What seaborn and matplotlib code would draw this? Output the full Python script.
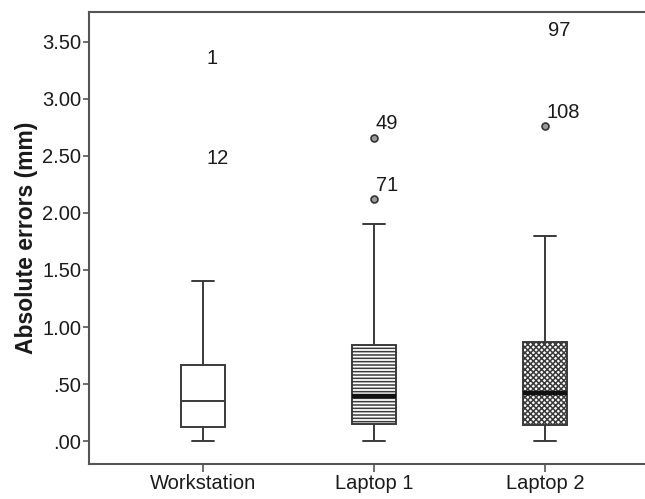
import numpy as np
import seaborn as sns
import pandas as pd
import matplotlib
matplotlib.use("Agg")
import matplotlib.pyplot as plt

# five number summaries (min, q1, median, q3, max)
categories = ["Workstation", "Laptop 1", "Laptop 2"]
workstation = [0.00, 0.12, 0.35, 0.67, 1.40]
laptop1 = [0.00, 0.15, 0.40, 0.84, 1.90]
laptop2 = [0.00, 0.14, 0.42, 0.87, 1.80]

# outlier points (circle shown) and extreme labels (only the case number shows)
out_cat = ["Laptop 1", "Laptop 1", "Laptop 2"]
out_val = [2.66, 2.12, 2.76]
out_lab = ["49", "71", "108"]
ext_cat = ["Workstation", "Workstation", "Laptop 2"]
ext_val = [3.35, 2.48, 3.60]
ext_lab = ["1", "12", "97"]

yticks = [0.0, 0.5, 1.0, 1.5, 2.0, 2.5, 3.0, 3.5]
ytick_labels = [".00", ".50", "1.00", "1.50", "2.00", "2.50", "3.00", "3.50"]

df = pd.DataFrame({
    "device": np.repeat(categories, 5),
    "err": workstation + laptop1 + laptop2,
})

sns.set_style("white")
plt.rcParams["font.family"] = ["Liberation Sans", "DejaVu Sans"]
plt.rcParams["hatch.linewidth"] = 1.1

fig = plt.figure(figsize=(6.45, 4.99), dpi=100)
ax = fig.add_axes([89 / 645, 35 / 499, 1 - 89 / 645, 452 / 499])

edge = "#3a3a3a"
sns.boxplot(data=df, x="device", y="err", order=categories, whis=(0, 100),
            width=0.255, color="white", linecolor=edge, linewidth=1.4,
            showfliers=False, ax=ax)

boxes = []
medians = []
for c in ax.containers:
    boxes += list(c.boxes)
    medians += list(c.medians)

hatches = ["", "-----", "xxxxxx"]
for b, h in zip(boxes, hatches):
    b.set_hatch(h)
    b.set_edgecolor(edge)
for i, m in enumerate(medians):
    if i > 0:
        m.set_linewidth(3.2)
        m.set_color("#111111")

sns.stripplot(x=out_cat, y=out_val, order=categories, jitter=False,
              marker="o", size=5, color="#9a9a9a", edgecolor="#333333",
              linewidth=1.2, ax=ax, zorder=5)

pos = {c: i for i, c in enumerate(categories)}
for c, v, t in zip(out_cat, out_val, out_lab):
    ax.text(pos[c] + 0.01, v + 0.12, t, ha="left", va="center",
            fontsize=14.5, color="#1a1a1a")
for c, v, t in zip(ext_cat, ext_val, ext_lab):
    ax.text(pos[c] + 0.02, v, t, ha="left", va="center",
            fontsize=14.5, color="#1a1a1a")

ax.set_xlim(-0.667, 2.585)
ax.set_ylim(-0.20, 3.76)
ax.set_yticks(yticks)
ax.set_yticklabels(ytick_labels)
ax.set_xlabel("")
ax.set_ylabel("Absolute errors (mm)", fontsize=16.5, fontweight="bold",
              color="#1a1a1a", labelpad=3)

for s in ["left", "top", "bottom"]:
    ax.spines[s].set_visible(True)
    ax.spines[s].set_color("#555555")
    ax.spines[s].set_linewidth(1.5)
ax.spines["right"].set_visible(False)

ax.tick_params(axis="y", direction="out", length=4.5, width=1.2,
               color="#555555", labelsize=14.5, labelcolor="#1a1a1a",
               left=True, pad=1)
ax.tick_params(axis="x", direction="out", length=6, width=1.2,
               color="#555555", labelsize=14.5, labelcolor="#1a1a1a",
               bottom=True, pad=1)

fig.savefig("out.png", dpi=100)
